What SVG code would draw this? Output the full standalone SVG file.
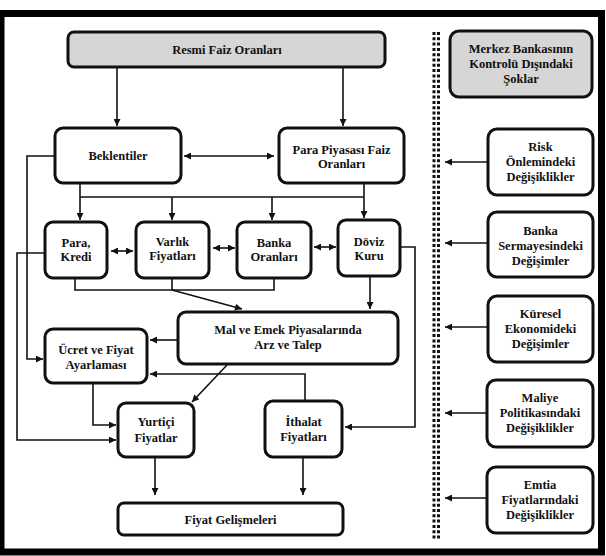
<svg xmlns="http://www.w3.org/2000/svg" width="606" height="556" viewBox="0 0 606 556">
<defs>
<marker id="ah" viewBox="0 0 10 10" refX="10" refY="5" markerWidth="8" markerHeight="7" markerUnits="userSpaceOnUse" orient="auto-start-reverse"><path d="M0,0 L10,5 L0,10 Z" fill="#111"/></marker>
</defs>
<style>
.box{fill:#fff;stroke:#111;stroke-width:3}
.gray{fill:#d6d6d6}
text{font-family:'Liberation Serif','Times New Roman','DejaVu Serif',serif;font-weight:bold;font-size:12.5px;fill:#111;text-anchor:middle}
.c{fill:none;stroke:#111;stroke-width:1.6}
.a{marker-end:url(#ah)}
.b{marker-start:url(#ah);marker-end:url(#ah)}
.dots{fill:none;stroke:#111;stroke-width:3;stroke-dasharray:3 2.3}
</style>
<rect x="0" y="0" width="606" height="556" fill="#fff"/>
<rect x="1" y="13.5" width="600.5" height="538.5" fill="none" stroke="#000" stroke-width="7"/>
<g id="separator">
<line class="dots" x1="434" y1="32" x2="434" y2="539"/>
<line class="dots" x1="438.5" y1="32" x2="438.5" y2="539"/>
</g>
<g id="connectors">
<path class="c a" d="M117,67 V126"/>
<path class="c a" d="M343,67 V126"/>
<path class="c b" d="M184,156 H274"/>
<path class="c a" d="M80,184 V220"/>
<path class="c a" d="M364,184 V218"/>
<path class="c" d="M80,197 H364"/>
<path class="c a" d="M172,197 V220"/>
<path class="c a" d="M272,197 V220"/>
<path class="c a" d="M55,156 H27 V359 H43"/>
<path class="c a" d="M45,253 H17 V440 H116"/>
<path class="c b" d="M111,251 H133"/>
<path class="c b" d="M213,248 H235"/>
<path class="c b" d="M314,247 H336"/>
<path class="c" d="M75,279 V290 H274 V279"/>
<path class="c" d="M172,279 V290"/>
<path class="c a" d="M172,290 L242,309"/>
<path class="c a" d="M370,277 V309"/>
<path class="c a" d="M178,340 H150"/>
<path class="c a" d="M305,401 V374 H150"/>
<path class="c a" d="M227,365 L192,402"/>
<path class="c a" d="M93,384 V425 H116"/>
<path class="c a" d="M400,247 H415 V427 H345"/>
<path class="c a" d="M155,458 V495"/>
<path class="c a" d="M303,458 V495"/>
<path class="c a" d="M488,162 H445"/>
<path class="c a" d="M488,243 H445"/>
<path class="c a" d="M488,327 H445"/>
<path class="c a" d="M487,413 H445"/>
<path class="c a" d="M487,498 H445"/>
</g>
<g font-family="'Liberation Serif','Times New Roman',serif">
<g id="resmi"><rect class="box gray" x="68" y="32" width="317" height="35" rx="6"/><text x="227" y="54">Resmi Faiz Oranları</text></g>
<g id="merkez"><rect class="box gray" x="450" y="31" width="142" height="66" rx="9"/><text x="521" y="53">Merkez Bankasının</text><text x="521" y="68">Kontrolü Dışındaki</text><text x="521" y="83">Şoklar</text></g>
<g id="beklentiler"><rect class="box" x="55" y="128" width="126" height="55" rx="8"/><text x="118" y="160">Beklentiler</text></g>
<g id="parapiyasasi"><rect class="box" x="279" y="128" width="125" height="55" rx="8"/><text x="341.5" y="154">Para Piyasası Faiz</text><text x="341.5" y="168">Oranları</text></g>
<g id="risk"><rect class="box" x="488" y="129" width="105" height="66" rx="9"/><text x="540.5" y="151">Risk</text><text x="540.5" y="166">Önlemindeki</text><text x="540.5" y="181">Değişiklikler</text></g>
<g id="bankasermaye"><rect class="box" x="488" y="212" width="105" height="65" rx="9"/><text x="540.5" y="235">Banka</text><text x="540.5" y="250">Sermayesindeki</text><text x="540.5" y="265">Değişimler</text></g>
<g id="kuresel"><rect class="box" x="488" y="296" width="105" height="66" rx="9"/><text x="540.5" y="318">Küresel</text><text x="540.5" y="333">Ekonomideki</text><text x="540.5" y="348">Değişimler</text></g>
<g id="maliye"><rect class="box" x="487" y="380" width="106" height="67" rx="9"/><text x="540" y="402">Maliye</text><text x="540" y="417">Politikasındaki</text><text x="540" y="432">Değişiklikler</text></g>
<g id="emtia"><rect class="box" x="487" y="467" width="106" height="66" rx="9"/><text x="540" y="489">Emtia</text><text x="540" y="504">Fiyatlarındaki</text><text x="540" y="519">Değişiklikler</text></g>
<g id="parakredi"><rect class="box" x="45" y="222" width="62" height="56" rx="8"/><text x="76" y="247">Para,</text><text x="76" y="261">Kredi</text></g>
<g id="varlik"><rect class="box" x="136" y="222" width="73" height="56" rx="8"/><text x="172.5" y="246">Varlık</text><text x="172.5" y="260">Fiyatları</text></g>
<g id="bankaoranlari"><rect class="box" x="237" y="222" width="74" height="56" rx="8"/><text x="274" y="247">Banka</text><text x="274" y="261">Oranları</text></g>
<g id="doviz"><rect class="box" x="338" y="220" width="62" height="56" rx="8"/><text x="369" y="246">Döviz</text><text x="369" y="260">Kuru</text></g>
<g id="malemek"><rect class="box" x="178" y="312" width="220" height="52" rx="8"/><text x="288" y="334">Mal ve Emek Piyasalarında</text><text x="288" y="349">Arz ve Talep</text></g>
<g id="ucret"><rect class="box" x="45" y="329" width="102" height="54" rx="8"/><text x="96" y="354">Ücret ve Fiyat</text><text x="96" y="369">Ayarlaması</text></g>
<g id="yurtici"><rect class="box" x="118" y="403" width="76" height="54" rx="8"/><text x="156" y="426">Yurtiçi</text><text x="156" y="442">Fiyatlar</text></g>
<g id="ithalat"><rect class="box" x="265" y="401" width="77" height="56" rx="8"/><text x="303.5" y="426">İthalat</text><text x="303.5" y="441">Fiyatları</text></g>
<g id="fiyatgelismeleri"><rect class="box" x="118" y="503" width="225" height="32" rx="6"/><text x="230.5" y="524">Fiyat Gelişmeleri</text></g>
</g>
</svg>
